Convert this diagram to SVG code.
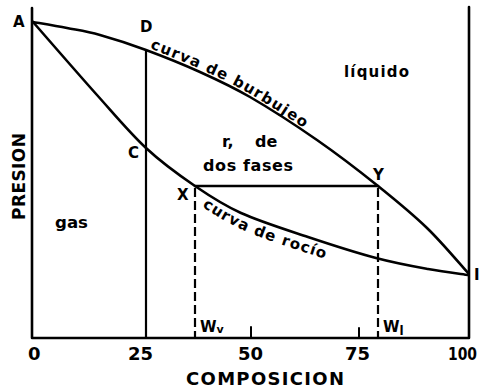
<svg xmlns="http://www.w3.org/2000/svg" width="482" height="391" viewBox="0 0 482 391">
<style>
.ln{fill:none;stroke:#000;stroke-linecap:round;stroke-linejoin:round}
.ax{stroke-width:2.6}
.cv{stroke-width:2.6}
.ds{stroke-width:2.2;stroke-dasharray:9 4;stroke-linecap:butt}
.t{font-family:"DejaVu Sans","Liberation Sans",sans-serif;font-weight:bold;fill:#000}
.lb{font-size:15px}
.nm{font-size:18px}
.cl{font-size:15px}
</style>
<defs>
<path id="bt" d="M146,47 C162.7,53.2 182.7,61.2 200,69 C217.3,76.8 230.5,82.7 250,94 C269.5,105.3 295.7,122.2 317,137 C338.3,151.8 360.7,169.3 378,183"/>
<path id="rt" d="M197,203 C212.8,213.8 224.2,221.5 243,230 C261.8,238.5 287.5,246.5 310,254 C332.5,261.5 358,269.7 378,275"/>
</defs>
<rect width="482" height="391" fill="#fff"/>
<g id="axes">
<path class="ln ax" d="M32,8 V338 H469 V7"/>
<path class="ln" stroke-width="2" d="M251,327 V338 M359,328 V338"/>
</g>
<g id="connectors">
<path id="bubble" class="ln cv" d="M33,22 C38.7,23 55.8,25.8 67,28 C78.2,30.2 86.8,31.3 100,35 C113.2,38.7 129.3,43.8 146,50 C162.7,56.2 182.7,64.2 200,72 C217.3,79.8 230.5,85.7 250,97 C269.5,108.3 295.7,125.2 317,140 C338.3,154.8 359.7,171.3 378,186 C396.3,200.7 412,213.5 427,228 C442,242.5 461.2,265.5 468,273"/>
<path id="dew" class="ln cv" d="M33,22 C43.7,34.2 78.2,74 97,95 C115.8,116 129.7,132.8 146,148 C162.3,163.2 179.2,175.2 195,186 C210.8,196.8 222.2,204.5 241,213 C259.8,221.5 285.5,229.5 308,237 C330.5,244.5 356,252.7 376,258 C396,263.3 413,266.3 428,269 C443.3,271.8 461.3,274 468,275"/>
<path class="ln" stroke-width="2.2" d="M146,51 V338"/>
<path class="ln cv" d="M195,186 H378"/>
<path class="ln ds" d="M195,188 V338"/>
<path class="ln ds" d="M378,188 V338"/>
</g>
<g id="point-labels">
<text class="t lb" x="13" y="27">A</text>
<text class="t lb" x="140" y="32">D</text>
<text class="t lb" x="128" y="158">C</text>
<text class="t lb" x="177" y="200">X</text>
<text class="t lb" x="373" y="180">Y</text>
<text class="t lb" x="474" y="280">I</text>
</g>
<g id="region-labels">
<text class="t" font-size="16" x="55" y="228" textLength="33" lengthAdjust="spacingAndGlyphs">gas</text>
<text class="t" font-size="15" x="344" y="77" textLength="65" lengthAdjust="spacing">líquido</text>
<text class="t" font-size="16" x="222" y="147">r,</text>
<text class="t" font-size="16" x="255" y="147">de</text>
<text class="t" font-size="16" x="203" y="171" textLength="90" lengthAdjust="spacing">dos fases</text>
</g>
<g id="curve-labels">
<text class="t cl"><textPath href="#bt" startOffset="4" textLength="174" lengthAdjust="spacing">curva de burbujeo</textPath></text>
<text class="t cl"><textPath href="#rt" startOffset="6" textLength="134" lengthAdjust="spacing">curva de rocío</textPath></text>
</g>
<g id="w-labels">
<text class="t" font-size="15" x="200" y="332">W<tspan font-size="11" dy="1">v</tspan></text>
<text class="t" font-size="15" x="383" y="332">W<tspan font-size="12" dy="3">l</tspan></text>
</g>
<g id="axis-labels">
<text class="t nm" x="28" y="360">0</text>
<text class="t nm" x="128" y="360">25</text>
<text class="t nm" x="238" y="360">50</text>
<text class="t nm" x="345" y="360">75</text>
<text class="t" font-size="17" x="448" y="360" textLength="29" lengthAdjust="spacingAndGlyphs">100</text>
<text class="t" font-size="18" x="186" y="385" textLength="158" lengthAdjust="spacing">COMPOSICION</text>
<text class="t" font-size="17" transform="translate(25,220) rotate(-90)" textLength="87" lengthAdjust="spacing">PRESION</text>
</g>
</svg>
